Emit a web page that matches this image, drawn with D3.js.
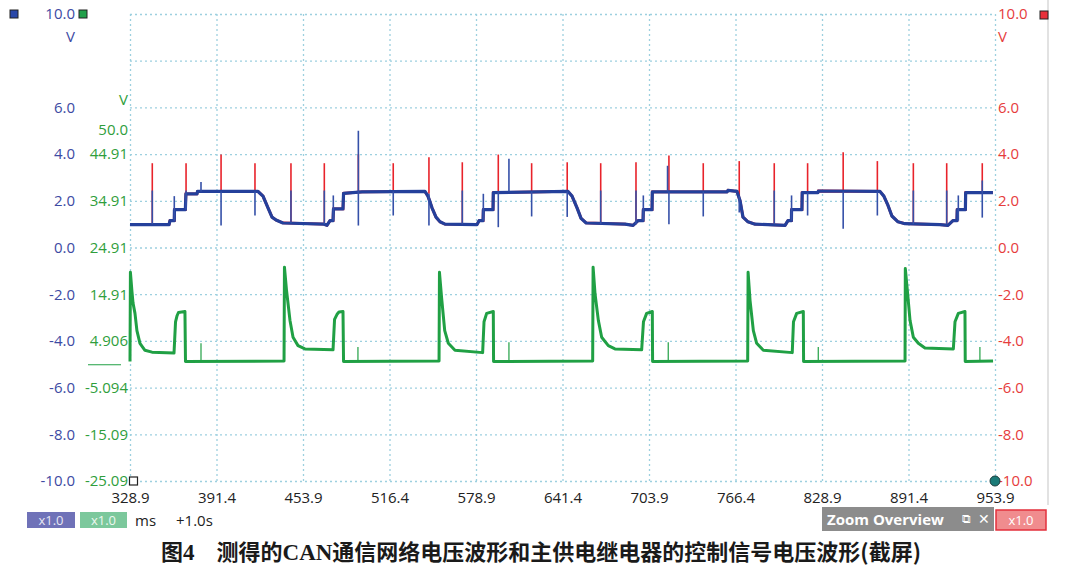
<!DOCTYPE html>
<html><head><meta charset="utf-8">
<script src="https://cdn.jsdelivr.net/npm/d3@7/dist/d3.min.js"></script>
<style>
html,body{margin:0;padding:0;background:#fff;}
svg{display:block;}
</style></head>
<body>
<svg id="c" width="1080" height="577"></svg>
<script>
// ---------- data ----------
const xTicks = [328.9, 391.4, 453.9, 516.4, 578.9, 641.4, 703.9, 766.4, 828.9, 891.4, 953.9];
const leftTicks = [10, 6, 4, 2, 0, -2, -4, -6, -8, -10];
const gridTicks = [10, 8, 6, 4, 2, 0, -2, -4, -6, -8, -10];
const greenTickValues = [44.91, 34.91, 24.91, 14.91, 4.906, -5.094, -15.09, -25.09];
const greenTickLabels = ["44.91", "34.91", "24.91", "14.91", "4.906", "-5.094", "-15.09", "-25.09"];

// CAN trace (ms, V)
const canLevels = [
 [328.9,0.98],[357.1,0.98],[357.8,1.15],[360.9,1.15],[361.0,1.62],[368.9,1.62],[369.3,2.3],[377.3,2.3],[377.7,2.4],
 [421.4,2.4],[425.0,2.2],[428.6,1.7],[431.5,1.3],[434.4,1.18],[439.4,1.05],[469.1,1.0],[471.2,0.95],[473.4,1.15],[475.6,1.15],
 [475.9,1.65],[482.8,1.65],[483.2,2.32],[496.5,2.38],[542.0,2.4],[544.2,2.2],[547.1,1.7],[550.0,1.3],[552.9,1.1],[556.5,1.0],
 [579.6,0.98],[581.1,1.15],[584.0,1.15],[584.2,1.62],[591.2,1.62],[591.4,2.35],[645.4,2.4],[648.3,2.2],[651.9,1.7],[654.8,1.25],
 [658.5,1.05],[686.6,1.0],[692.4,0.95],[696.0,1.15],[699.6,1.15],[699.8,1.62],[706.1,1.62],[706.3,2.38],[760.3,2.38],[761.0,2.45],
 [767.5,2.4],[769.7,2.0],[771.8,1.3],[775.4,1.1],[780.5,1.0],[802.2,0.95],[804.3,1.15],[806.8,1.15],[806.9,1.62],[814.4,1.62],
 [814.6,2.35],[825.9,2.35],[826.3,2.42],[870.8,2.4],[873.6,2.2],[876.6,1.8],[879.4,1.35],[883.8,1.1],[888.8,1.02],[914.1,0.98],
 [919.9,0.95],[923.5,1.15],[926.4,1.15],[926.6,1.62],[932.5,1.62],[932.7,2.35],[952.4,2.35]
];
// spikes [ms, from V, to V]
const redSpikes = [
 [345.0,1.0,3.61],[369.4,1.62,3.61],[394.7,2.4,3.98],[419.2,2.4,3.61],[445.2,1.05,3.61],[469.3,1.0,3.61],
 [493.9,2.4,4.0],[519.1,2.4,3.61],[544.9,2.3,3.87],[569.0,1.0,3.65],[595.0,2.4,3.98],[619.1,2.4,3.61],
 [644.8,2.4,3.65],[669.0,1.0,3.61],[694.5,1.0,3.65],[718.3,2.4,3.94],[743.1,2.4,3.61],[769.1,2.2,3.7],
 [794.4,1.0,3.61],[818.5,2.35,3.61],[844.2,2.4,4.08],[868.9,2.4,3.7],[894.9,1.0,3.61],[919.0,1.0,3.61],[944.7,2.35,3.61]
];
const blueSpikes = [
 [345.0,1.0,2.44],[360.9,1.15,2.2],[369.4,1.62,2.44],[380.2,2.4,2.8],[394.7,2.4,0.94],[419.2,2.4,1.37],
 [445.2,1.05,2.44],[469.3,1.0,2.44],[475.8,1.15,2.23],[493.9,0.94,5.0],[519.1,2.4,1.37],[544.9,2.3,0.94],
 [569.0,1.0,2.44],[584.2,1.15,2.3],[595.0,2.4,0.87],[602.7,2.4,3.8],[619.1,2.4,1.33],[644.8,2.4,1.31],
 [669.0,1.0,2.44],[694.5,1.0,2.44],[699.8,1.15,2.23],[717.3,2.4,3.5],[718.3,2.4,1.0],[743.1,2.4,1.33],
 [769.1,2.2,1.5],[794.4,1.0,2.44],[806.9,1.15,2.23],[818.5,2.35,1.37],[844.2,0.8,2.4],[868.9,2.4,1.37],
 [894.9,1.0,2.44],[919.0,1.0,2.44],[927.4,1.15,2.23],[944.7,1.28,2.87]
];
// relay control signal (ms, V on green scale)
const relayTrace = [
 [328.9,0.5],[329.2,19.6],[330.3,15.5],[331.1,13.0],[332.5,10.8],[333.9,7.1],[336.1,4.4],[339.7,2.9],[344.8,2.5],[360.7,2.3],
 [361.8,9.0],[362.9,10.3],[363.9,11.0],[368.6,11.2],[369.0,0.5],[440.2,0.6],
 [440.5,20.7],[442.0,15.7],[444.5,9.3],[446.7,5.7],[450.3,3.9],[455.3,3.2],[475.6,3.0],[476.7,9.5],[478.5,10.6],[479.9,11.1],
 [482.8,11.2],[483.2,0.5],[552.2,0.6],
 [552.5,19.6],[554.0,14.3],[556.3,7.1],[558.9,4.4],[563.7,2.9],[583.7,2.4],[584.7,9.0],[586.6,10.8],[591.4,11.2],[591.6,0.5],
 [663.2,0.6],
 [663.5,20.7],[664.9,15.0],[667.3,9.3],[669.7,5.7],[674.5,3.9],[679.3,3.2],[698.6,3.0],[699.9,9.0],[702.2,10.8],[706.3,11.2],
 [706.5,0.5],[775.2,0.6],
 [775.5,19.6],[776.9,13.6],[779.3,7.1],[781.7,4.4],[786.5,2.9],[807.4,2.4],[808.3,9.0],[810.6,10.8],[815.4,11.2],[815.6,0.5],
 [888.9,0.6],
 [889.1,20.4],[890.8,15.0],[892.5,9.3],[894.9,5.7],[898.5,4.4],[903.3,3.4],[923.8,3.2],[925.0,9.0],[927.4,10.8],[932.2,11.2],
 [932.4,0.5],[952.5,0.6]
];
const relaySpikes = [[380.2,0.5,4.4],[493.6,0.5,3.6],[602.7,0.5,4.6],[717.8,0.5,4.6],[826.2,0.5,3.6],[943.0,0.5,3.6]];

// ---------- drawing ----------
const svg = d3.select("#c");
const L = 130, R = 995, T = 14, B = 481;
const x = d3.scaleLinear().domain([328.9, 953.9]).range([L, R]);
const yL = d3.scaleLinear().domain([-10, 10]).range([B, T]);
const yG = d3.scaleLinear().domain([-25.09, 74.91]).range([B, T]);
const f1 = d => d.toFixed(1);

const BLUE = "#24409b", RED = "#e8232b", GREEN = "#20a044";
const LBLUE = "#3d4aa3", LGREEN = "#2f9e3c", LRED = "#e63c3c";
const FONT = "'Open Sans', 'Noto Sans', sans-serif";
const GRID = "#9dd0df";

// panel border on the right
svg.append("line").attr("x1",1048).attr("x2",1048).attr("y1",0).attr("y2",505)
  .attr("stroke","#e2e2e2").attr("stroke-width",2);

// grid
const grid = svg.append("g");
grid.append("g").attr("transform",`translate(${L},0)`)
  .call(d3.axisLeft(yL).tickValues(gridTicks).tickSize(-(R-L)).tickFormat(""))
  .call(g=>g.select(".domain").remove());
grid.append("g").attr("transform",`translate(0,${T})`)
  .call(d3.axisBottom(x).tickValues(xTicks).tickSize(B-T).tickFormat(""))
  .call(g=>g.select(".domain").remove());
grid.selectAll("line").attr("stroke",GRID).attr("stroke-width",1.3).attr("stroke-dasharray","2,3");

// left blue axis
const ax1 = svg.append("g").attr("transform","translate(75,0)")
  .call(d3.axisLeft(yL).tickValues(leftTicks).tickSize(0).tickPadding(0).tickFormat(f1));
ax1.select(".domain").remove();
ax1.selectAll("text").attr("fill",LBLUE).style("font-family",FONT).style("font-size","15px");

// green axis
const ax2 = svg.append("g").attr("transform","translate(128,0)")
  .call(d3.axisLeft(yG).tickValues(greenTickValues).tickSize(0).tickPadding(0)
    .tickFormat((d,i)=>greenTickLabels[i]));
ax2.select(".domain").remove();
ax2.selectAll("text").attr("fill",LGREEN).style("font-family",FONT).style("font-size","15px");

// right red axis
const ax3 = svg.append("g").attr("transform","translate(998,0)")
  .call(d3.axisRight(yL).tickValues(leftTicks).tickSize(0).tickPadding(0).tickFormat(f1));
ax3.select(".domain").remove();
ax3.selectAll("text").attr("fill",LRED).style("font-family",FONT).style("font-size","15px");

// bottom axis labels
const ax4 = svg.append("g").attr("transform",`translate(0,${B})`)
  .call(d3.axisBottom(x).tickValues(xTicks).tickSize(0).tickPadding(11).tickFormat(f1));
ax4.select(".domain").remove();
ax4.selectAll("text").attr("fill","#222").style("font-family",FONT).style("font-size","15px");

// unit labels
function txt(xp, yp, s, col, anchor, size, weight){
  return svg.append("text").attr("x",xp).attr("y",yp).text(s).attr("fill",col)
    .attr("text-anchor",anchor||"start").style("font-family",FONT)
    .style("font-size",(size||15)+"px").style("font-weight",weight||"normal");
}
txt(75, yL(9)+5, "V", LBLUE, "end");
txt(128, yG(56.5)+5, "V", LGREEN, "end");
txt(128, yG(50)+5, "50.0", LGREEN, "end");
txt(998, yL(9)+5, "V", LRED, "start");

// channel markers
svg.append("rect").attr("x",10).attr("y",10).attr("width",8).attr("height",8).attr("fill","#2a48a8").attr("stroke","#222").attr("stroke-width",1);
svg.append("rect").attr("x",79).attr("y",10).attr("width",8).attr("height",8).attr("fill","#22a04a").attr("stroke","#222").attr("stroke-width",1);
svg.append("rect").attr("x",1040).attr("y",11).attr("width",8).attr("height",8).attr("fill","#e8303a").attr("stroke","#222").attr("stroke-width",1);
// green offset marker line
svg.append("line").attr("x1",88).attr("x2",121).attr("y1",yG(-0.2)).attr("y2",yG(-0.2)).attr("stroke",GREEN).attr("stroke-width",1.2);

// traces
const line = (ys)=>d3.line().x(d=>x(d[0])).y(d=>ys(d[1]));
const traces = svg.append("g");
traces.append("path").datum(canLevels).attr("d",line(yL)).attr("fill","none").attr("stroke",RED).attr("stroke-width",2.8);
traces.selectAll(".rs").data(redSpikes).enter().append("line")
  .attr("x1",d=>x(d[0])).attr("x2",d=>x(d[0])).attr("y1",d=>yL(d[1])).attr("y2",d=>yL(d[2]))
  .attr("stroke",RED).attr("stroke-width",1.6);
traces.append("path").datum(canLevels).attr("d",line(yL)).attr("fill","none").attr("stroke",BLUE).attr("stroke-width",3.2).attr("stroke-linejoin","round");
traces.selectAll(".bs").data(blueSpikes).enter().append("line")
  .attr("x1",d=>x(d[0])).attr("x2",d=>x(d[0])).attr("y1",d=>yL(d[1])).attr("y2",d=>yL(d[2]))
  .attr("stroke","#3550a8").attr("stroke-width",1.6);

traces.append("path").datum(relayTrace).attr("d",line(yG)).attr("fill","none").attr("stroke",GREEN).attr("stroke-width",3).attr("stroke-linejoin","round");
traces.selectAll(".gs").data(relaySpikes).enter().append("line")
  .attr("x1",d=>x(d[0])).attr("x2",d=>x(d[0])).attr("y1",d=>yG(d[1])).attr("y2",d=>yG(d[2]))
  .attr("stroke",GREEN).attr("stroke-width",1.2);

// cursors
svg.append("rect").attr("x",L-0.5).attr("y",B-4).attr("width",8).attr("height",8).attr("fill","#fff").attr("stroke","#222").attr("stroke-width",1.2);
svg.append("circle").attr("cx",R).attr("cy",B).attr("r",5).attr("fill","#1b7b78").attr("stroke","#1d3d3d").attr("stroke-width",1);

// bottom controls
function box(x0,y0,w,h,fill,stroke,label,col){
  svg.append("rect").attr("x",x0).attr("y",y0).attr("width",w).attr("height",h).attr("fill",fill).attr("stroke",stroke||"none").attr("stroke-width",1.5);
  if(label) txt(x0+w/2, y0+h/2+5, label, col||"#fff", "middle", 13);
}
box(27,512,48,16,"#6f72b8",null,"x1.0","#e8e8f4");
box(80,512,47,16,"#7cc89c",null,"x1.0","#eef8f0");
txt(135,526,"ms","#222","start",15);
txt(176,526,"+1.0s","#222","start",15);
box(822,507,172,24,"#8c8c8c",null);
txt(827,525,"Zoom Overview","#fff","start",15,"bold");
txt(962,523,"⧉","#fff","start",12);
txt(978,524,"✕","#fff","start",14);
box(996,510,50,20,"#f08c8e","#e3303c","x1.0","#fff");

// caption
const cap = svg.append("text").attr("x",541).attr("y",560).attr("text-anchor","middle")
  .attr("fill","#1a1a1a").style("font-size","22px").style("font-weight","bold")
  .style("font-family","'Noto Sans CJK SC', sans-serif");
cap.append("tspan").text("图");
cap.append("tspan").text("4").style("font-family","'Liberation Serif', serif").style("font-size","23px");
cap.append("tspan").text("\u3000测得的");
cap.append("tspan").text("CAN").style("font-family","'Liberation Serif', serif").style("font-size","23px");
cap.append("tspan").text("通信网络电压波形和主供电继电器的控制信号电压波形(截屏)");
</script>
</body></html>
